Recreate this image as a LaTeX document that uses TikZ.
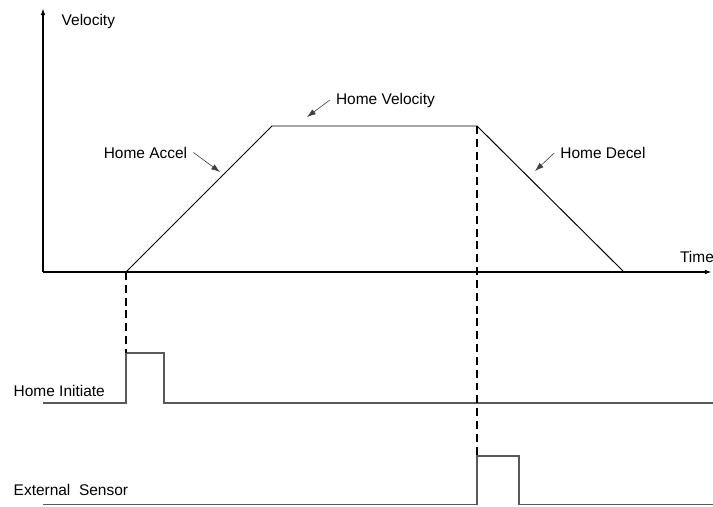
\documentclass[tikz,border=0pt]{standalone}
\usepackage{fontspec}
\setmainfont{Liberation Sans}
\usetikzlibrary{arrows.meta}

\begin{document}
\begin{tikzpicture}[font=\fontsize{8.8}{10}\selectfont,
    axis/.style={line width=0.8pt,-{Latex[length=4pt,width=2.6pt]}},
    pointer/.style={line width=0.35pt,black!75,-{Latex[length=5pt,width=3.4pt]}},
    signal/.style={line width=0.8pt,black!65},
    marker/.style={line width=1.1pt,dash pattern=on 4.5pt off 2.8pt}]
  \useasboundingbox (0,0) rectangle (14.26,10.12);
  \coordinate (origin) at (0.86,4.68);
  \coordinate (vtop) at (0.86,9.96);
  \coordinate (tend) at (14.24,4.68);
  \coordinate (accstart) at (2.52,4.68);
  \coordinate (cruise) at (5.44,7.60);
  \coordinate (decstart) at (9.54,7.60);
  \coordinate (stop) at (12.48,4.68);
  \draw[axis] (origin) -- (vtop);
  \draw[axis] (origin) -- (tend);
  \draw[line width=0.55pt] (accstart) -- (cruise) -- (decstart) -- (stop);
  \node[anchor=west] (velocity) at (1.11,9.68) {Velocity};
  \node (time) at (13.94,4.98) {Time};
  \node (accel) at (2.91,7.07) {Home Accel};
  \node (homevel) at (7.71,8.12) {Home Velocity};
  \node (decel) at (12.06,7.06) {Home Decel};
  \coordinate (acctip) at (4.40,6.68);
  \coordinate (veltip) at (6.14,7.78);
  \coordinate (dectip) at (10.70,6.70);
  \draw[pointer] (accel.east) -- (acctip);
  \draw[pointer] (homevel.west) -- (veltip);
  \draw[pointer] (decel.west) -- (dectip);
  % home initiate pulse
  \node[anchor=west] (initiate) at (0.15,2.31) {Home Initiate};
  \coordinate (inup) at (2.52,3.06);
  \coordinate (indown) at (3.28,3.06);
  \draw[signal] (0.86,2.06) -- (2.52,2.06) -- (inup) -- (indown)
    -- (3.28,2.06) -- (14.26,2.06);
  % external sensor pulse
  \node[anchor=west] (sensor) at (0.15,0.32) {External~~Sensor};
  \coordinate (exup) at (9.54,1.00);
  \coordinate (exdown) at (10.38,1.00);
  \draw[signal] (0.86,0.03) -- (9.54,0.03) -- (exup) -- (exdown)
    -- (10.38,0.03) -- (14.26,0.03);
  \draw[marker] (accstart) -- (inup);
  \draw[marker] (decstart) -- (exup);
\end{tikzpicture}
\end{document}
